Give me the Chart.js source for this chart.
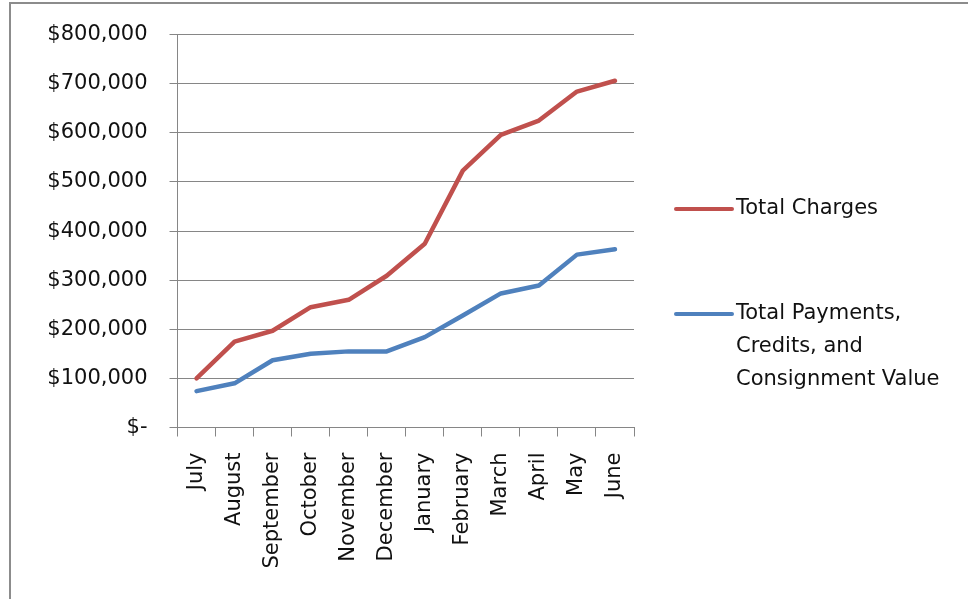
<!DOCTYPE html>
<html>
<head>
<meta charset="utf-8">
<script src="https://cdn.jsdelivr.net/npm/chart.js@4"></script>
<style>
  html, body { margin: 0; padding: 0; background: #fff; }
  #wrap { position: relative; width: 968px; height: 599px; overflow: hidden; }
  #frame { position: absolute; left: 9px; top: 2px; width: 1000px; height: 700px; border: 2px solid #8c8c8c; box-sizing: border-box; }
  canvas { position: absolute; left: 0; top: 0; }
</style>
</head>
<body>
<div id="wrap">
  <div id="frame"></div>
  <canvas id="c" width="968" height="599"></canvas>
</div>
<script>
const months = ["July","August","September","October","November","December","January","February","March","April","May","June"];
const totalCharges = [100000, 175000, 197000, 245000, 260000, 309000, 374000, 523000, 596000, 625000, 684000, 706000];
const totalPayments = [74000, 90000, 137000, 150000, 155000, 155000, 184000, 228000, 273000, 289000, 352000, 363000];
const seriesNames = ["Total Charges", "Total Payments, Credits, and Consignment Value"];
const legendLines = [["Total Charges"], ["Total Payments,", "Credits, and", "Consignment Value"]];
const yMin = 0, yMax = 800000, yStep = 100000;

const FONT = "DejaVu Sans";
const FS = 21;
const RED = "#C0504D", BLUE = "#4F81BD", GRID = "#868686", TXT = "#111111";

const legendPlugin = {
  id: 'sideLegend',
  afterDraw(chart) {
    const ctx = chart.ctx;
    const x0 = 676, x1 = 732, tx = 736;
    const rows = [{ y: 209, color: RED, lines: legendLines[0] }, { y: 314, color: BLUE, lines: legendLines[1] }];
    ctx.save();
    ctx.font = FS + "px '" + FONT + "'";
    ctx.fillStyle = TXT;
    ctx.textBaseline = "middle";
    ctx.textAlign = "left";
    rows.forEach(r => {
      ctx.strokeStyle = r.color;
      ctx.lineWidth = 4;
      ctx.lineCap = "round";
      ctx.beginPath();
      ctx.moveTo(x0, r.y);
      ctx.lineTo(x1, r.y);
      ctx.stroke();
      r.lines.forEach((t, i) => ctx.fillText(t, tx, r.y + i * 33));
    });
    ctx.restore();
  }
};

new Chart(document.getElementById('c'), {
  type: 'line',
  data: {
    labels: months,
    datasets: [
      { label: seriesNames[0], data: totalCharges, borderColor: RED, backgroundColor: RED, borderWidth: 4.5, pointRadius: 0, tension: 0, borderCapStyle: 'round', borderJoinStyle: 'round' },
      { label: seriesNames[1], data: totalPayments, borderColor: BLUE, backgroundColor: BLUE, borderWidth: 4.5, pointRadius: 0, tension: 0, borderCapStyle: 'round', borderJoinStyle: 'round' }
    ]
  },
  options: {
    responsive: false,
    animation: false,
    devicePixelRatio: 1,
    layout: { padding: { left: 0, right: 334, top: 33, bottom: 0 } },
    plugins: { legend: { display: false }, tooltip: { enabled: false } },
    scales: {
      x: {
        type: 'category',
        offset: true,
        grid: { drawOnChartArea: false, drawTicks: true, tickLength: 9, color: GRID, offset: true },
        border: { color: GRID, width: 1 },
        ticks: { minRotation: 90, maxRotation: 90, padding: 16, color: TXT, font: { family: FONT, size: FS }, autoSkip: false },
        afterFit(s) { s.height = 171.5; }
      },
      y: {
        min: yMin, max: yMax,
        grid: { color: GRID, tickLength: 8, lineWidth: 1 },
        border: { color: GRID, width: 1 },
        ticks: {
          stepSize: yStep, padding: 22, color: TXT, font: { family: FONT, size: FS },
          callback: v => v === 0 ? "$-" : "$" + v.toLocaleString("en-US")
        },
        afterFit(s) { s.width = 177.5; }
      }
    }
  },
  plugins: [legendPlugin]
});
</script>
</body>
</html>
